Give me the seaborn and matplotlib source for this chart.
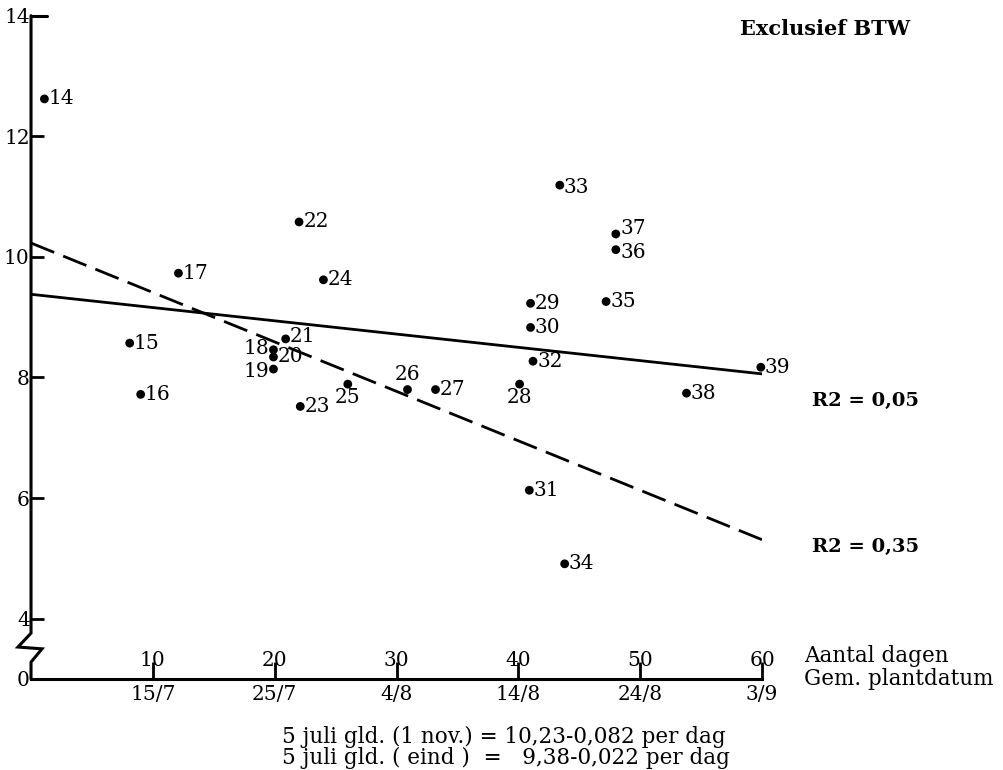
# -*- coding: utf-8 -*-
"""
Opbrengst 5 juli gld. tegen aantal dagen na plantdatum, met twee trendlijnen
"""

import numpy as np
import pandas as pd
import matplotlib
matplotlib.use('Agg')
import matplotlib.pyplot as plt
import seaborn as sns

nummers = [14, 15, 16, 17, 18, 19, 20, 21, 22, 23, 24, 25, 26,
           27, 28, 29, 30, 31, 32, 33, 34, 35, 36, 37, 38, 39]
dagen = [1.1, 8.1, 9.0, 12.1, 19.9, 19.9, 19.9, 20.9, 22.0, 22.1, 24.0, 26.0, 30.9,
         33.2, 40.1, 41.0, 41.0, 40.9, 41.2, 43.4, 43.8, 47.2, 48.0, 48.0, 53.8, 59.9]
waarden = [12.62, 8.57, 7.72, 9.73, 8.46, 8.14, 8.34, 8.64, 10.58, 7.52, 9.62, 7.89, 7.80,
           7.80, 7.89, 9.23, 8.83, 6.13, 8.27, 11.19, 4.91, 9.26, 10.12, 10.38, 7.74, 8.17]
# plaats van het nummer t.o.v. de stip: r=rechts, l=links, o=onder, b=boven
label_plaats = {18: 'l', 19: 'l', 25: 'o', 26: 'b', 28: 'o'}
# kleine verticale verschuivingen (punten) van enkele nummers
label_dy = {37: 4, 36: -2, 21: 2, 33: -2, 18: 1, 19: -2}

# trendlijnen: y = a + b * dag
lijn_namen = ['1 nov.', 'eind']
lijn_a = [10.23, 9.38]
lijn_b = [-0.082, -0.022]
lijn_dagen = [0, 60]

# x-as: aantal dagen en plantdatum
x_ticks = [10, 20, 30, 40, 50, 60]
x_datums = ['15/7', '25/7', '4/8', '14/8', '24/8', '3/9']
# y-as met onderbreking: 0 staat op positie 3
y_ticks = [3, 4, 6, 8, 10, 12, 14]
y_labels = ['0', '4', '6', '8', '10', '12', '14']

sns.set_style('white')
plt.rcParams['font.family'] = ['DejaVu Serif']
plt.rcParams['font.size'] = 14.5
plt.rcParams['text.color'] = 'black'
plt.rcParams['xtick.color'] = 'black'
plt.rcParams['ytick.color'] = 'black'

fig = plt.figure(figsize=(10.04, 7.70), dpi=100)
ax = fig.add_axes([0.0309, 0.1182, 0.7281, 0.8614])

df = pd.DataFrame({'dag': dagen, 'waarde': waarden, 'nr': nummers})
sns.scatterplot(data=df, x='dag', y='waarde', color='black', s=40,
                edgecolor='none', ax=ax, clip_on=False, zorder=3)

# trendlijnen
rijen = []
for naam, a, b in zip(lijn_namen, lijn_a, lijn_b):
    for d in lijn_dagen:
        rijen.append({'dag': d, 'waarde': a + b * d, 'lijn': naam})
lijnen = pd.DataFrame(rijen)
sns.lineplot(data=lijnen, x='dag', y='waarde', style='lijn', color='black',
             dashes={'1 nov.': (9, 3.5), 'eind': ''}, linewidth=2.0,
             legend=False, ax=ax)

# nummers bij de punten
for nr, d, w in zip(nummers, dagen, waarden):
    p = label_plaats.get(nr, 'r')
    dy = label_dy.get(nr, 0)
    if p == 'r':
        ax.annotate(str(nr), (d, w), xytext=(3, dy), textcoords='offset points',
                    ha='left', va='center')
    elif p == 'l':
        ax.annotate(str(nr), (d, w), xytext=(-3, dy), textcoords='offset points',
                    ha='right', va='center')
    elif p == 'o':
        ax.annotate(str(nr), (d, w), xytext=(0, -3), textcoords='offset points',
                    ha='center', va='top')
    else:
        ax.annotate(str(nr), (d, w), xytext=(0, 4), textcoords='offset points',
                    ha='center', va='bottom')

ax.set_xlim(0, 60)
ax.set_ylim(3, 14)
ax.set_xlabel('')
ax.set_ylabel('')

# assen
for s in ['top', 'right', 'left']:
    ax.spines[s].set_visible(False)
ax.spines['bottom'].set_linewidth(2.2)
ax.spines['bottom'].set_color('black')
ax.spines['bottom'].set_bounds(0, 60)
# linker as met zigzag-onderbreking
ax.plot([0, 0, -1.07, 0.9, 0, 0], [14, 3.76, 3.53, 3.50, 3.28, 3.0],
        color='black', linewidth=2.2, clip_on=False, solid_joinstyle='miter')
ax.plot([0, 1.3], [14, 14], color='black', linewidth=2.2, clip_on=False)

ax.set_yticks(y_ticks)
ax.set_yticklabels(y_labels)
ax.tick_params(axis='y', left=True, direction='in', length=9, width=2, pad=1,
               labelsize=14.5)
ax.set_xticks(x_ticks)
ax.set_xticklabels(x_datums)
ax.tick_params(axis='x', bottom=True, direction='in', length=12, width=2, pad=4,
               labelsize=14.5)
for t, lab in zip(x_ticks, x_ticks):
    ax.annotate(str(lab), (t, 3), xytext=(0, 9), textcoords='offset points',
                ha='center', va='baseline', fontsize=14.5)

# teksten
fig.text(0.8005, 1 - 656 / 770, 'Aantal dagen', ha='left', va='center', fontsize=15.5)
fig.text(0.8005, 1 - 679 / 770, 'Gem. plantdatum', ha='left', va='center', fontsize=15.5)
fig.text(0.8217, 1 - 29 / 770, 'Exclusief BTW', ha='center', va='center',
         fontsize=15, fontweight='bold')
fig.text(0.8088, 1 - 401 / 770, 'R2 = 0,05', ha='left', va='center',
         fontsize=14, fontweight='bold')
fig.text(0.8088, 1 - 547 / 770, 'R2 = 0,35', ha='left', va='center',
         fontsize=14, fontweight='bold')
fig.text(0.281, 1 - 737 / 770, '5 juli gld. (1 nov.) = 10,23-0,082 per dag',
         ha='left', va='center', fontsize=15.5)
fig.text(0.281, 1 - 758 / 770, '5 juli gld. ( eind )  =   9,38-0,022 per dag',
         ha='left', va='center', fontsize=15.5)

plt.savefig('out.png', dpi=100)
plt.close()
